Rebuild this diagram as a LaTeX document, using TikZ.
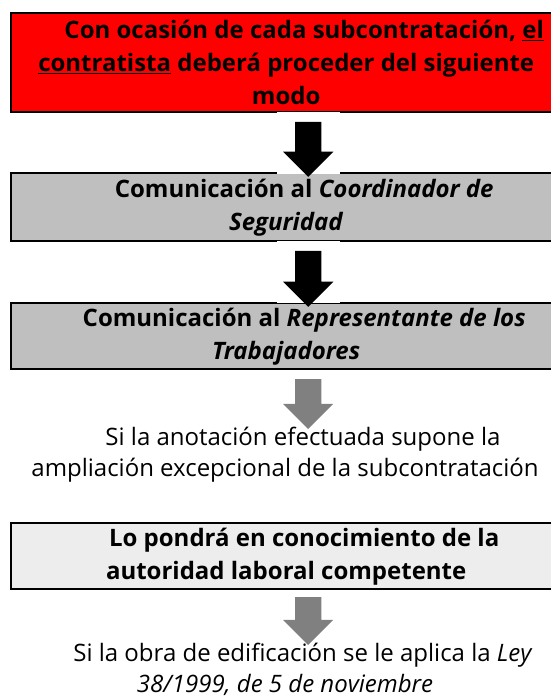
\documentclass[tikz,border=0pt]{standalone}
\usepackage{fontspec}
\setmainfont{Open Sans}
\usetikzlibrary{shapes.arrows,positioning,calc}
\definecolor{boxgray}{RGB}{191,191,191}
\definecolor{boxlight}{RGB}{237,237,237}
\definecolor{arrowgray}{RGB}{128,128,128}
\begin{document}
\begin{tikzpicture}[x=1pt, y=-1pt,
        box/.style = {shape=rectangle, draw, line width=2.4pt, anchor=north west,
        minimum width=550pt, inner sep=0pt, align=center,
        font=\bfseries\fontsize{24}{33}\selectfont},
        note/.style = {align=center, inner sep=0pt,
        font=\fontsize{24}{31}\selectfont},
        gap/.style = {shape=rectangle, fill=white, minimum width=63pt, minimum height=62pt},
        blockarrow/.style = {shape=single arrow, fill=black, inner sep=13pt,
        minimum width=50pt, single arrow head extend=12pt,
        single arrow head indent=0pt, shape border rotate=270}]
    \useasboundingbox (0,0) rectangle (550,699);
    \node[box, fill=red, minimum height=99pt] (b1) at (10,12)
        {\hspace*{36pt}Con ocasión de cada subcontratación, \underline{el}\\
         \underline{contratista} deberá proceder del siguiente\\ modo};
    \node[box, fill=boxgray, minimum height=68pt] (b2) at (10,172)
        {\hspace*{36pt}Comunicación al \textit{Coordinador de}\\ \textit{Seguridad}};
    \node[box, fill=boxgray, minimum height=66pt] (b3) at (10,302)
        {\hspace*{36pt}Comunicación al \textit{Representante de los}\\ \textit{Trabajadores}};
    \node[note] (n1) at (285,455)
        {\hspace*{36pt}Si la anotación efectuada supone la\\
         ampliación excepcional de la subcontratación};
    \node[box, fill=boxlight, minimum height=66pt] (b4) at (10,522)
        {\hspace*{36pt}Lo pondrá en conocimiento de la\\ autoridad laboral competente};
    \node[note] (n2) at (285,669)
        {\hspace*{36pt}Si la obra de edificación se le aplica la \textit{Ley}\\
         \textit{38/1999, de 5 de noviembre}};
    \node[gap] (g1) at ($(b1.south)!0.5!(b2.north)+(22,0)$) {};
    \node[gap] (g2) at ($(b2.south)!0.5!(b3.north)+(22,0)$) {};
    \node[blockarrow, minimum height=55pt] (a1) at (g1) {};
    \node[blockarrow, minimum height=56pt] (a2) at (g2) {};
    \node[blockarrow, fill=arrowgray, minimum height=50pt] (a3)
        at ([shift={(22,27)}]b3.south) {};
    \node[blockarrow, fill=arrowgray, minimum height=48pt] (a4)
        at ([shift={(22,24)}]b4.south) {};
\end{tikzpicture}
\end{document}
